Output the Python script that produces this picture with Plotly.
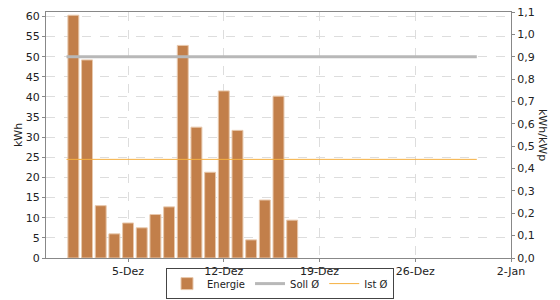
import plotly.graph_objects as go

days = [f"2023-12-{d:02d}" for d in range(1, 18)]
energie = [60.3, 49.2, 13.0, 6.0, 8.7, 7.5, 10.8, 12.7, 52.8, 32.5, 21.3, 41.5, 31.7, 4.5, 14.4, 40.2, 9.4]
soll_avg = 50.0
ist_avg = 24.5
line_span = ["2023-11-30 12:00", "2023-12-30 12:00"]
tick_dates = ["2023-12-05", "2023-12-12", "2023-12-19", "2023-12-26", "2024-01-02"]
tick_labels = ["5-Dez", "12-Dez", "19-Dez", "26-Dez", "2-Jan"]
kwp = 61.1 / 1.1

fig = go.Figure()
fig.add_trace(go.Bar(
    x=days, y=energie, name="Energie",
    width=0.8 * 86400000,
    marker=dict(color="#C27F4A", line=dict(color="#E8C8AC", width=1)),
))
fig.add_trace(go.Scatter(
    x=line_span, y=[soll_avg, soll_avg], name="Soll Ø", mode="lines",
    line=dict(color="#B8B8B8", width=3),
))
fig.add_trace(go.Scatter(
    x=line_span, y=[ist_avg, ist_avg], name="Ist Ø", mode="lines",
    line=dict(color="#F5B041", width=1),
))
# invisible trace on secondary axis
fig.add_trace(go.Scatter(x=days[:1], y=[energie[0] / kwp], yaxis="y2",
                         mode="markers", marker=dict(opacity=0), showlegend=False,
                         hoverinfo="skip"))

axis_common = dict(showline=True, linecolor="#888888", linewidth=1,
                   ticks="outside", ticklen=3, tickcolor="#888888",
                   tickfont=dict(size=11, color="#222222"), zeroline=False)

fig.update_layout(
    width=560, height=300,
    margin=dict(l=46, r=49, t=12, b=42, autoexpand=False),
    plot_bgcolor="white", paper_bgcolor="white",
    font=dict(family="DejaVu Sans", size=11, color="#222222"),
    separators=",.",
    bargap=0.2,
    xaxis=dict(range=["2023-11-29", "2024-01-02"], tickvals=tick_dates, ticktext=tick_labels,
               showgrid=True, gridcolor="#DDDDDD", griddash="dash", mirror=True, **axis_common),
    yaxis=dict(range=[0, 61.1], dtick=5, showgrid=True, gridcolor="#DDDDDD", griddash="dash",
               **axis_common),
    yaxis2=dict(range=[0, 1.1], dtick=0.1, tickformat=".1f", overlaying="y", side="right",
                showgrid=False, **axis_common),
    legend=dict(orientation="h", x=0.5, xanchor="center", xref="container",
                y=0.003, yanchor="bottom", yref="container", bgcolor="rgba(255,255,255,0)",
                bordercolor="#444444", borderwidth=1, font=dict(size=10),
                itemwidth=30, tracegroupgap=0),
    annotations=[
        dict(text="kWh/kWp", textangle=90, x=1.0, xref="paper", xanchor="center", xshift=32,
             y=0.5, yref="paper", showarrow=False, font=dict(size=11)),
        dict(text="kWh", textangle=-90, x=0.0, xref="paper", xanchor="center", xshift=-28,
             y=0.5, yref="paper", showarrow=False, font=dict(size=11)),
    ],
)

fig.write_html("out.html")
